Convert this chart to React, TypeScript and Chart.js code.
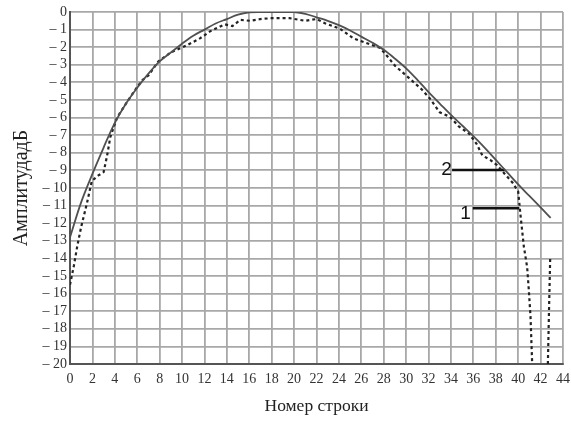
import React, { useEffect, useRef } from "react";
import { Chart, registerables } from "chart.js";

Chart.register(...registerables);

// Curve 2 (solid)
const solidX = [0, 1, 2, 3, 4, 5, 6, 7, 8, 9, 10, 11, 12, 13, 14, 15, 16, 17, 18, 19, 20, 21, 22, 23, 24, 25, 26, 27, 28, 29, 30, 31, 32, 33, 34, 35, 36, 37, 38, 39, 40, 41, 42, 42.9];
const solidY = [-12.8, -10.8, -9.2, -7.7, -6.3, -5.2, -4.3, -3.5, -2.8, -2.3, -1.8, -1.35, -1.0, -0.65, -0.4, -0.15, -0.02, 0, 0, 0, 0, -0.1, -0.3, -0.5, -0.75, -1.05, -1.4, -1.75, -2.15, -2.65, -3.2, -3.85, -4.55, -5.2, -5.85, -6.45, -7.05, -7.7, -8.4, -9.1, -9.8, -10.45, -11.1, -11.7];

// Curve 1 (dashed); null breaks the line where it leaves the plot
const dashX = [0, 0.35, 0.65, 1.0, 1.5, 1.95, 2.5, 3.0, 3.3, 3.6, 4.2, 5.2, 6.4, 7.0, 7.9, 9.0, 9.5, 10.4, 11.6, 12.5, 13.8, 14.5, 15.2, 16.1, 17, 18, 19.6, 21, 22, 22.8, 24.1, 25.3, 26.2, 27.7, 28.3, 29, 30.7, 31.4, 32.1, 33, 33.9, 34.7, 35.6, 36.3, 36.8, 37.5, 38.1, 38.8, 39.5, 40.0, 40.2, 40.5, 40.8, 40.95, 41.1, 41.25, 42.0, 42.65, 42.75, 42.86];
const dashY = [-15.5, -14.4, -13.3, -12.2, -10.9, -9.6, -9.3, -9.1, -8.2, -7.1, -6.0, -5.0, -3.9, -3.6, -2.8, -2.3, -2.15, -1.9, -1.5, -1.1, -0.7, -0.8, -0.45, -0.5, -0.4, -0.35, -0.35, -0.5, -0.4, -0.65, -0.95, -1.5, -1.7, -2.05, -2.5, -3.05, -4.0, -4.4, -4.9, -5.7, -5.95, -6.5, -6.9, -7.5, -8.15, -8.4, -8.7, -9.2, -9.7, -10.2, -11.5, -13.3, -14.5, -15.8, -17.3, -20, null, -20, -17, -13.9];

// Leader lines for labels
const labelNames = ["2", "1"];
const labelLineX1 = [34.1, 35.95];
const labelLineX2 = [38.84, 40.1];
const labelLineY = [-8.98, -11.15];
const labelTextX = [33.6, 35.3];
const labelTextY = [-8.95, -11.45];

const xTicksMin = 0;
const xTicksMax = 44;
const xStep = 2;
const yMin = -20;
const yMax = 0;
const yStep = 1;

const yTitle = "АмплитудадБ";
const xTitle = "Номер строки";

const pts = (xs: number[], ys: (number | null)[]) => xs.map((x, i) => ({ x, y: ys[i] }));

export default function App() {
  const ref = useRef<HTMLCanvasElement>(null);
  useEffect(() => {
    if (!ref.current) return;
    const labelPlugin = {
      id: "labelText",
      afterDatasetsDraw(chart: any) {
        const ctx = chart.ctx;
        const xs = chart.scales.x;
        const ys = chart.scales.y;
        ctx.save();
        ctx.fillStyle = "#111";
        ctx.font = "19px 'Liberation Sans', sans-serif";
        ctx.textAlign = "center";
        ctx.textBaseline = "middle";
        labelNames.forEach((t, i) => {
          ctx.fillText(t, xs.getPixelForValue(labelTextX[i]), ys.getPixelForValue(labelTextY[i]));
        });
        ctx.restore();
      },
    };
    const leaderSets = labelNames.map((n, i) => ({
      label: "leader" + n,
      data: [
        { x: labelLineX1[i], y: labelLineY[i] },
        { x: labelLineX2[i], y: labelLineY[i] },
      ],
      borderColor: "#111",
      borderWidth: 2.5,
      pointRadius: 0,
      tension: 0,
    }));
    const chart = new Chart(ref.current, {
      type: "line",
      data: {
        datasets: [
          {
            label: "2",
            data: pts(solidX, solidY),
            borderColor: "#505050",
            borderWidth: 1.8,
            pointRadius: 0,
            tension: 0.35,
          },
          {
            label: "1",
            data: pts(dashX, dashY),
            borderColor: "#222",
            borderWidth: 2.2,
            borderDash: [3, 3],
            pointRadius: 0,
            tension: 0,
            spanGaps: false,
          },
          ...leaderSets,
        ] as any,
      },
      options: {
        animation: false,
        responsive: false,
        maintainAspectRatio: false,
        layout: { padding: { top: 12, right: 8, bottom: 0, left: 0 } },
        plugins: {
          legend: { display: false },
          tooltip: { enabled: false },
        },
        scales: {
          x: {
            type: "linear",
            min: xTicksMin,
            max: xTicksMax,
            afterFit: (s: any) => {
              s.height = 59;
              s.paddingRight = 0;
              s.paddingLeft = 0;
            },
            ticks: {
              stepSize: xStep,
              autoSkip: false,
              maxRotation: 0,
              padding: 7,
              color: "#333",
              font: { family: "'Liberation Serif', serif", size: 14 },
            },
            grid: { color: "#a8a8a8", lineWidth: 1.8, drawTicks: false },
            border: { color: "#555", width: 2 },
            title: {
              display: true,
              text: xTitle,
              color: "#222",
              font: { family: "'Liberation Serif', serif", size: 17.5 },
              padding: { top: 0, bottom: 6 },
            },
          },
          y: {
            type: "linear",
            min: yMin,
            max: yMax,
            afterFit: (s: any) => {
              s.width = 70;
            },
            ticks: {
              stepSize: yStep,
              autoSkip: false,
              padding: 3,
              color: "#333",
              font: { family: "'Liberation Serif', serif", size: 14 },
              callback: (v: any) => (v === 0 ? "0" : "– " + Math.abs(v)),
            },
            grid: { color: "#a8a8a8", lineWidth: 1.8, drawTicks: false },
            border: { color: "#555", width: 2 },
            title: {
              display: true,
              text: yTitle,
              color: "#222",
              font: { family: "'Liberation Serif', serif", size: 20 },
              padding: { top: 10, bottom: 0 },
            },
          },
        },
      },
      plugins: [labelPlugin],
    });
    return () => chart.destroy();
  }, []);
  return (
    <div style={{ position: "fixed", left: 0, top: 0, width: 571, height: 423, background: "#fff" }}>
      <canvas ref={ref} width={571} height={423} />
    </div>
  );
}
